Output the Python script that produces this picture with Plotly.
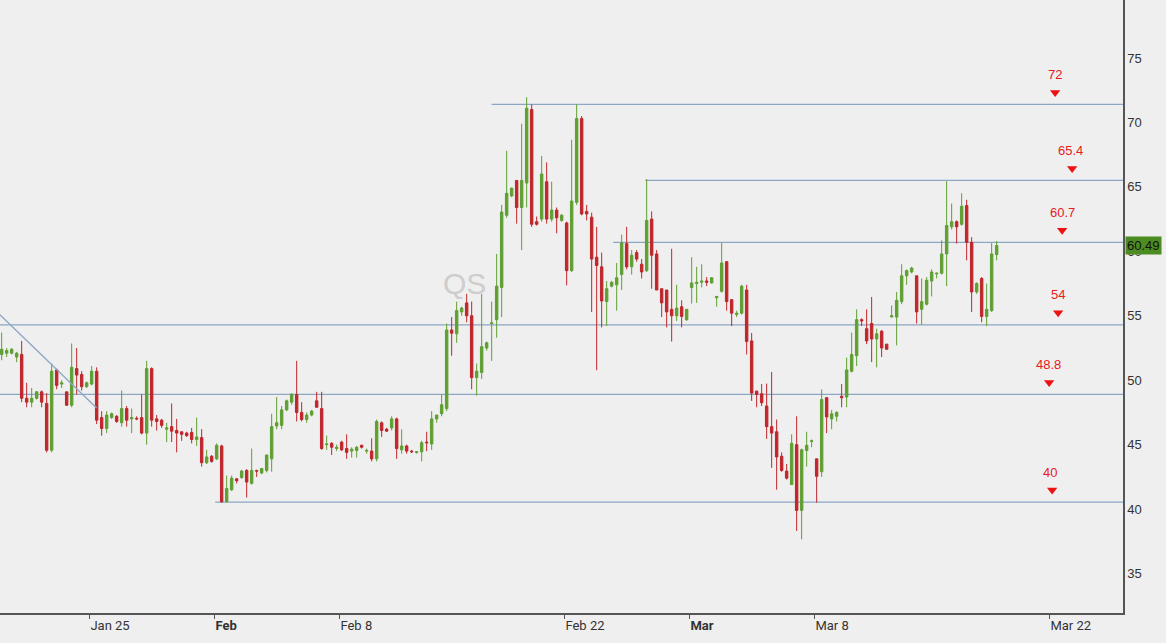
import plotly.graph_objects as go

# ---------------- data ----------------
opens = [52.0,52.1,52.1,51.8,52.0,48.6,48.3,48.6,49.1,48.2,
         44.57,50.8,49.7,49.1,48.06,50.9,50.45,49.5,49.7,50.7,
         47.1,46.25,47.1,47.2,46.7,47.8,47.0,47.05,47.1,45.9,
         50.9,47.0,46.9,46.2,46.4,46.1,46.0,45.9,45.95,45.4,
         45.55,43.6,44.1,43.9,44.9,40.6,41.5,42.35,42.45,43.0,
         42.0,43.0,42.8,43.0,43.9,46.45,46.5,47.7,48.3,48.9,
         47.5,46.95,47.3,48.4,47.8,45.0,45.1,44.7,45.2,44.7,
         44.5,44.55,44.95,44.5,44.5,43.9,46.7,46.2,46.3,47.0,
         44.6,44.9,44.5,44.4,44.45,45.2,45.05,47.0,47.4,47.8,
         53.9,53.6,55.3,56.0,55.0,50.2,50.6,52.5,54.4,54.7,
         57.2,62.8,64.3,65.5,63.4,65.3,71.0,62.3,62.5,65.4,
         62.5,63.2,62.4,62.2,58.5,63.8,70.3,63.1,62.65,59.55,
         58.8,56.1,57.3,57.4,58.2,60.6,58.8,59.9,59.0,58.5,
         62.5,59.8,57.1,57.0,55.5,55.0,55.7,54.7,57.2,57.5,
         57.6,57.7,57.55,56.4,56.9,59.2,56.25,55.1,55.2,57.0,
         53.05,49.15,48.95,48.0,46.4,46.0,44.1,42.95,41.9,45.0,
         39.9,44.55,45.25,43.9,42.9,48.65,47.0,47.2,48.75,48.7,
         50.7,51.9,54.7,54.0,54.4,53.2,53.8,52.8,54.9,54.9,
         56.1,58.1,58.4,58.1,55.5,55.9,57.7,58.25,58.3,59.8,
         61.9,62.3,62.1,63.55,60.7,56.85,57.9,54.95,55.4,59.75]
highs = [53.7,52.5,52.5,52.2,53.05,49.8,49.4,49.15,49.2,49.0,
         51.3,50.9,50.0,49.1,52.85,52.5,50.7,49.9,51.1,51.0,
         47.6,47.6,47.5,47.3,49.2,48.0,47.8,47.2,48.9,51.5,
         51.0,47.3,47.0,46.7,48.2,47.0,46.0,46.0,46.3,47.1,
         46.2,44.6,44.2,45.1,45.0,42.6,42.6,42.4,43.05,43.1,
         44.7,43.05,43.2,44.2,47.4,48.7,48.0,48.5,49.0,51.5,
         48.3,47.5,47.7,49.1,49.1,45.7,45.2,45.0,45.3,45.8,
         44.8,44.9,45.0,44.7,45.5,46.95,46.8,46.3,47.2,47.1,
         46.2,45.0,44.6,44.5,45.3,46.0,47.6,47.3,48.9,54.4,
         54.9,56.1,55.7,56.7,56.1,51.3,56.7,53.0,56.1,59.8,
         63.6,67.8,64.95,65.5,69.9,71.96,71.4,62.7,67.4,66.9,
         65.4,63.4,62.9,62.3,68.66,71.4,70.5,63.6,63.0,61.9,
         59.9,57.7,57.7,59.1,61.3,61.9,60.1,60.1,59.4,65.6,
         63.1,60.1,57.1,57.0,60.2,57.4,56.2,55.5,59.55,58.8,
         59.0,58.0,58.0,56.5,60.64,59.2,56.3,55.4,57.4,57.4,
         53.67,49.2,49.7,49.74,50.64,46.95,44.4,43.5,45.8,47.2,
         44.7,46.0,45.4,43.9,49.28,48.7,47.7,47.6,49.7,51.75,
         53.7,55.5,54.8,55.5,56.46,54.0,53.9,52.8,55.8,56.85,
         59.0,58.6,58.8,58.1,57.9,58.0,58.6,58.35,60.85,65.45,
         63.7,62.4,64.5,64.0,61.1,57.6,58.0,57.5,60.64,60.8]
lows = [51.55,51.8,52.0,51.4,48.3,47.9,47.9,48.5,47.9,44.4,
        44.4,49.3,49.4,48.0,47.9,48.9,49.2,49.4,49.6,46.6,
        45.7,45.9,47.0,46.7,46.4,46.4,45.9,46.9,45.8,45.0,
        46.4,46.1,46.3,45.2,45.2,44.4,45.3,45.6,45.1,44.9,
        43.3,43.5,43.6,43.8,40.5,40.5,41.4,42.0,42.35,40.9,
        41.9,42.5,42.7,42.85,42.9,46.2,46.2,47.6,48.1,46.8,
        46.8,46.7,47.2,47.9,44.6,44.6,44.2,44.5,44.5,43.9,
        44.0,44.0,44.7,44.3,43.7,43.7,45.6,46.0,46.1,43.9,
        44.3,44.3,44.35,44.3,43.7,44.5,44.6,46.7,47.2,47.6,
        51.9,52.9,55.0,54.5,49.3,48.8,50.1,52.3,51.5,53.3,
        54.9,62.6,64.2,62.15,60.1,63.4,61.9,62.0,62.3,62.15,
        62.3,61.4,62.3,57.36,58.4,63.6,62.8,62.4,55.3,50.78,
        54.1,54.2,57.2,55.4,57.0,58.6,58.2,59.2,57.9,58.4,
        57.1,57.0,54.9,54.1,53.0,54.6,54.1,54.6,55.95,56.0,
        57.2,57.3,57.5,55.7,56.8,55.4,54.2,54.9,55.1,52.0,
        48.4,47.9,48.0,45.45,43.2,41.5,42.9,42.3,41.9,38.3,
        37.65,43.3,44.8,40.5,42.5,45.9,46.2,46.8,47.9,47.9,
        50.6,51.1,54.2,52.8,51.4,51.0,51.8,52.4,54.9,52.7,
        55.9,57.4,58.3,54.4,54.3,55.8,56.5,57.9,58.2,57.3,
        61.7,60.6,62.0,59.3,55.3,56.7,54.5,54.2,55.3,59.3]
closes = [52.4,52.3,52.4,52.1,48.6,48.3,48.6,49.1,48.3,44.57,
          50.7,49.6,49.8,48.06,51.0,50.4,49.5,49.8,50.7,46.9,
          46.25,47.3,47.4,46.8,47.8,46.9,47.1,47.0,45.9,50.9,
          46.9,46.8,46.5,46.3,46.05,45.9,45.8,45.7,45.4,45.6,
          43.6,44.05,43.7,44.95,40.57,41.6,42.4,42.2,42.95,42.1,
          43.0,42.95,43.15,44.2,46.4,46.7,47.7,48.4,48.9,47.5,
          46.95,47.3,47.6,47.9,44.7,45.05,44.8,44.8,44.6,44.4,
          44.65,44.8,44.8,44.55,43.9,46.8,46.1,46.05,47.0,44.7,
          44.9,44.5,44.45,44.45,45.15,45.15,47.0,47.3,48.1,53.9,
          53.65,55.4,55.6,55.0,50.2,50.7,52.6,52.9,54.45,57.3,
          63.05,64.5,64.9,63.4,65.5,71.1,62.1,62.1,66.0,62.5,
          63.2,62.6,62.8,58.5,63.9,70.3,62.9,62.9,59.4,58.9,
          56.15,57.1,57.6,57.95,60.65,58.8,59.7,59.4,58.4,62.4,
          59.7,57.0,56.0,55.3,55.0,55.6,54.95,55.5,57.55,57.6,
          57.7,57.6,57.95,56.5,59.1,56.1,55.2,55.2,57.3,53.0,
          49.0,48.9,48.25,46.4,45.9,44.05,43.0,42.4,45.1,39.9,
          44.6,44.95,45.3,42.55,48.5,47.15,47.4,47.5,48.65,50.8,
          52.0,54.7,54.6,53.05,53.2,53.6,52.5,52.4,55.0,56.2,
          58.1,58.5,58.7,55.3,56.1,57.75,58.4,58.3,59.8,62.0,
          62.3,61.9,63.5,60.7,56.85,57.5,54.95,55.5,59.8,60.45]

# x-axis ticks (bar index at session boundaries) and labels
tick_pos = [17.5, 42.5, 67.5, 112.5, 137.5, 162.5, 209.5]
tick_text = ["Jan 25", "<b>Feb</b>", "Feb 8", "Feb 22", "<b>Mar</b>", "Mar 8", "Mar 22"]

# horizontal support / resistance levels
levels = [71.4, 65.5, 60.7, 54.3, 48.9, 40.55]
level_labels = ["72", "65.4", "60.7", "54", "48.8", "40"]
level_start = [98.0, 128.7, 122.3, -1.0, -1.0, 42.7]
label_x = [210.7, 213.7, 212.1, 211.3, 209.3, 209.7]
marker_x = [210.7, 214.1, 212.1, 211.3, 209.5, 210.1]

# descending trend line
trend_x = [-0.4, 19.0]
trend_y = [55.1, 47.85]

last_price = 60.49
symbol = "QS"

# ---------------- layout geometry ----------------
W, H = 1166, 643
ML, MR, MT, MB = 0, 43, 0, 30
XMIN, XMAX = -0.333, 224.27
YMIN, YMAX = 31.94, 79.5
plot_h = H - MT - MB
units_per_px = (YMAX - YMIN) / plot_h

GREEN = "#5f9f32"
RED = "#bf262b"
LEVEL = "#8ca6c4"
BG = "#efefef"

x = list(range(len(opens)))

fig = go.Figure()
fig.add_trace(go.Candlestick(
    x=x, open=opens, high=highs, low=lows, close=closes,
    increasing=dict(line=dict(color=GREEN, width=1), fillcolor=GREEN),
    decreasing=dict(line=dict(color=RED, width=1), fillcolor=RED),
    whiskerwidth=0, showlegend=False, hoverinfo="skip",
))

fig.add_trace(go.Scatter(
    x=trend_x, y=trend_y, mode="lines",
    line=dict(color=LEVEL, width=1.3), showlegend=False, hoverinfo="skip",
))

shapes = []
for lv, xs in zip(levels, level_start):
    shapes.append(dict(type="line", xref="x", yref="y", x0=xs, x1=XMAX,
                       y0=lv, y1=lv, line=dict(color=LEVEL, width=1.3), layer="below"))

fig.add_trace(go.Scatter(
    x=marker_x, y=[lv + 12 * units_per_px for lv in levels], mode="markers",
    marker=dict(symbol="triangle-down", size=9, color="#ee1111"),
    showlegend=False, hoverinfo="skip",
))

annotations = []
for lv, lab, lx in zip(levels, level_labels, label_x):
    annotations.append(dict(x=lx, y=lv, xref="x", yref="y", text=lab, showarrow=False,
                            yshift=30, font=dict(color="#e8191f", size=13,
                                                 family="Liberation Sans, Arial, sans-serif")))
annotations.append(dict(x=1, y=last_price, xref="paper", yref="y", text=str(last_price),
                        xanchor="left", xshift=2, showarrow=False, bgcolor="#4d8c21",
                        borderpad=1, font=dict(color="#111111", size=13,
                                               family="Liberation Sans, Arial, sans-serif")))
annotations.append(dict(x=0.414, y=0.538, xref="paper", yref="paper", text=symbol,
                        showarrow=False, font=dict(color="#cdcdcd", size=30,
                                                   family="Liberation Sans, Arial, sans-serif")))

fig.update_layout(
    width=W, height=H, autosize=False,
    margin=dict(l=ML, r=MR, t=MT, b=MB),
    paper_bgcolor=BG, plot_bgcolor=BG,
    shapes=shapes, annotations=annotations,
    xaxis=dict(range=[XMIN, XMAX], rangeslider=dict(visible=False), showgrid=False,
               zeroline=False, showline=True, linecolor="#555555", linewidth=1.5,
               tickmode="array", tickvals=tick_pos, ticktext=tick_text,
               ticks="outside", ticklen=4, tickcolor="#555555",
               ticklabelposition="outside right",
               tickfont=dict(size=13, color="#333333",
                             family="Liberation Sans Narrow, Roboto, Arial, sans-serif")),
    yaxis=dict(range=[YMIN, YMAX], side="right", showgrid=False, zeroline=False,
               showline=True, linecolor="#555555", linewidth=1.5, dtick=5, tick0=0,
               ticks="", tickfont=dict(size=13, color="#333333",
                                       family="Liberation Sans, Arial, sans-serif")),
)

fig.write_html("out.html")
